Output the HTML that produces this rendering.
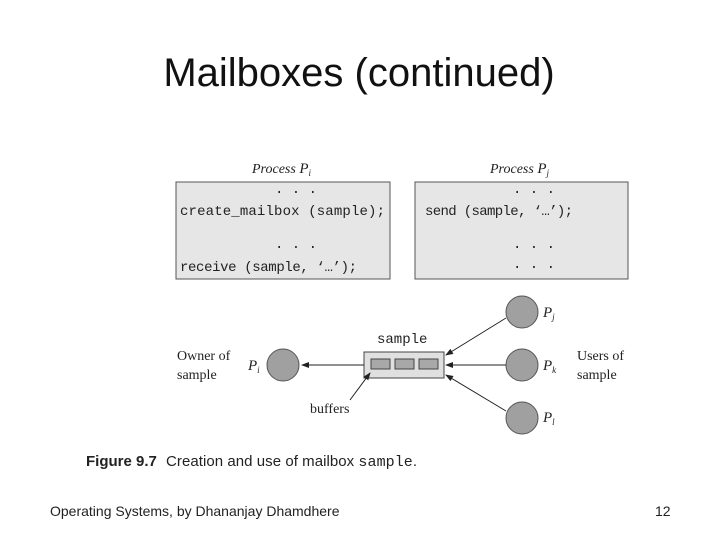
<!DOCTYPE html>
<html><head><style>
body{margin:0;width:720px;height:540px;background:#fff;overflow:hidden;position:relative;font-family:"Liberation Sans",sans-serif}
.t{position:absolute;white-space:nowrap}
</style></head><body>
<div class="t" style="left:0;width:718px;top:51px;text-align:center;font-size:40px;color:#111">Mailboxes (continued)</div>
<svg width="720" height="540" style="position:absolute;left:0;top:0">
<defs><marker id="a" markerWidth="8" markerHeight="6" refX="7" refY="3" orient="auto"><path d="M0,0L8,3L0,6z" fill="#222"/></marker></defs>
<g font-family="Liberation Serif" font-style="italic" font-size="14" fill="#222">
<text x="252" y="173">Process <tspan font-size="15">P</tspan><tspan font-size="9" dy="3">i</tspan></text>
<text x="490" y="173">Process <tspan font-size="15">P</tspan><tspan font-size="9" dy="3">j</tspan></text>
</g>
<rect x="176" y="182" width="214" height="97" fill="#e6e6e6" stroke="#555"/>
<rect x="415" y="182" width="213" height="97" fill="#e6e6e6" stroke="#555"/>
<g font-family="Liberation Mono" font-size="14" fill="#222">
<text x="275" y="193">. . .</text>
<text x="180" y="215" textLength="205">create_mailbox (sample);</text>
<text x="275" y="248">. . .</text>
<text x="180" y="271" textLength="177">receive (sample, ‘…’);</text>
<text x="513" y="193">. . .</text>
<text x="425" y="215" textLength="148">send (sample, ‘…’);</text>
<text x="513" y="248">. . .</text>
<text x="513" y="268">. . .</text>
</g>
<g fill="#a0a0a0" stroke="#555">
<circle cx="283" cy="365" r="16"/>
<circle cx="522" cy="312" r="16"/>
<circle cx="522" cy="365" r="16"/>
<circle cx="522" cy="418" r="16"/>
</g>
<rect x="364" y="352" width="80" height="26" fill="#e0e0e0" stroke="#444"/>
<g fill="#a8a8a8" stroke="#444">
<rect x="371" y="359" width="19" height="10"/><rect x="395" y="359" width="19" height="10"/><rect x="419" y="359" width="19" height="10"/>
</g>
<g stroke="#222" stroke-width="1" marker-end="url(#a)">
<line x1="364" y1="365" x2="302" y2="365"/>
<line x1="506" y1="318" x2="446" y2="355"/>
<line x1="506" y1="365" x2="446" y2="365"/>
<line x1="506" y1="411" x2="446" y2="375"/>
<line x1="350" y1="400" x2="370" y2="373"/>
</g>
<text x="377" y="343" font-family="Liberation Mono" font-size="14" fill="#222">sample</text>
<g font-family="Liberation Serif" font-size="14" fill="#222">
<text x="177" y="360">Owner of</text><text x="177" y="379">sample</text>
<text x="577" y="360">Users of</text><text x="577" y="379">sample</text>
<text x="310" y="413">buffers</text>
</g>
<g font-family="Liberation Serif" font-style="italic" font-size="15" fill="#222">
<text x="248" y="370">P<tspan font-size="9" dy="3">i</tspan></text>
<text x="543" y="317">P<tspan font-size="9" dy="3">j</tspan></text>
<text x="543" y="370">P<tspan font-size="9" dy="3">k</tspan></text>
<text x="543" y="422">P<tspan font-size="9" dy="3">l</tspan></text>
</g>
<text x="86" y="466" font-family="Liberation Sans" font-weight="bold" font-size="15" fill="#222">Figure 9.7</text>
<text x="166" y="466" font-family="Liberation Sans" font-size="15" fill="#222" textLength="251">Creation and use of mailbox <tspan font-family="Liberation Mono">sample</tspan>.</text>
</svg>
<div class="t" style="left:50px;top:503px;font-size:14px;color:#222">Operating Systems, by Dhananjay Dhamdhere</div>
<div class="t" style="left:655px;top:503px;font-size:14px;color:#222">12</div>
</body></html>
